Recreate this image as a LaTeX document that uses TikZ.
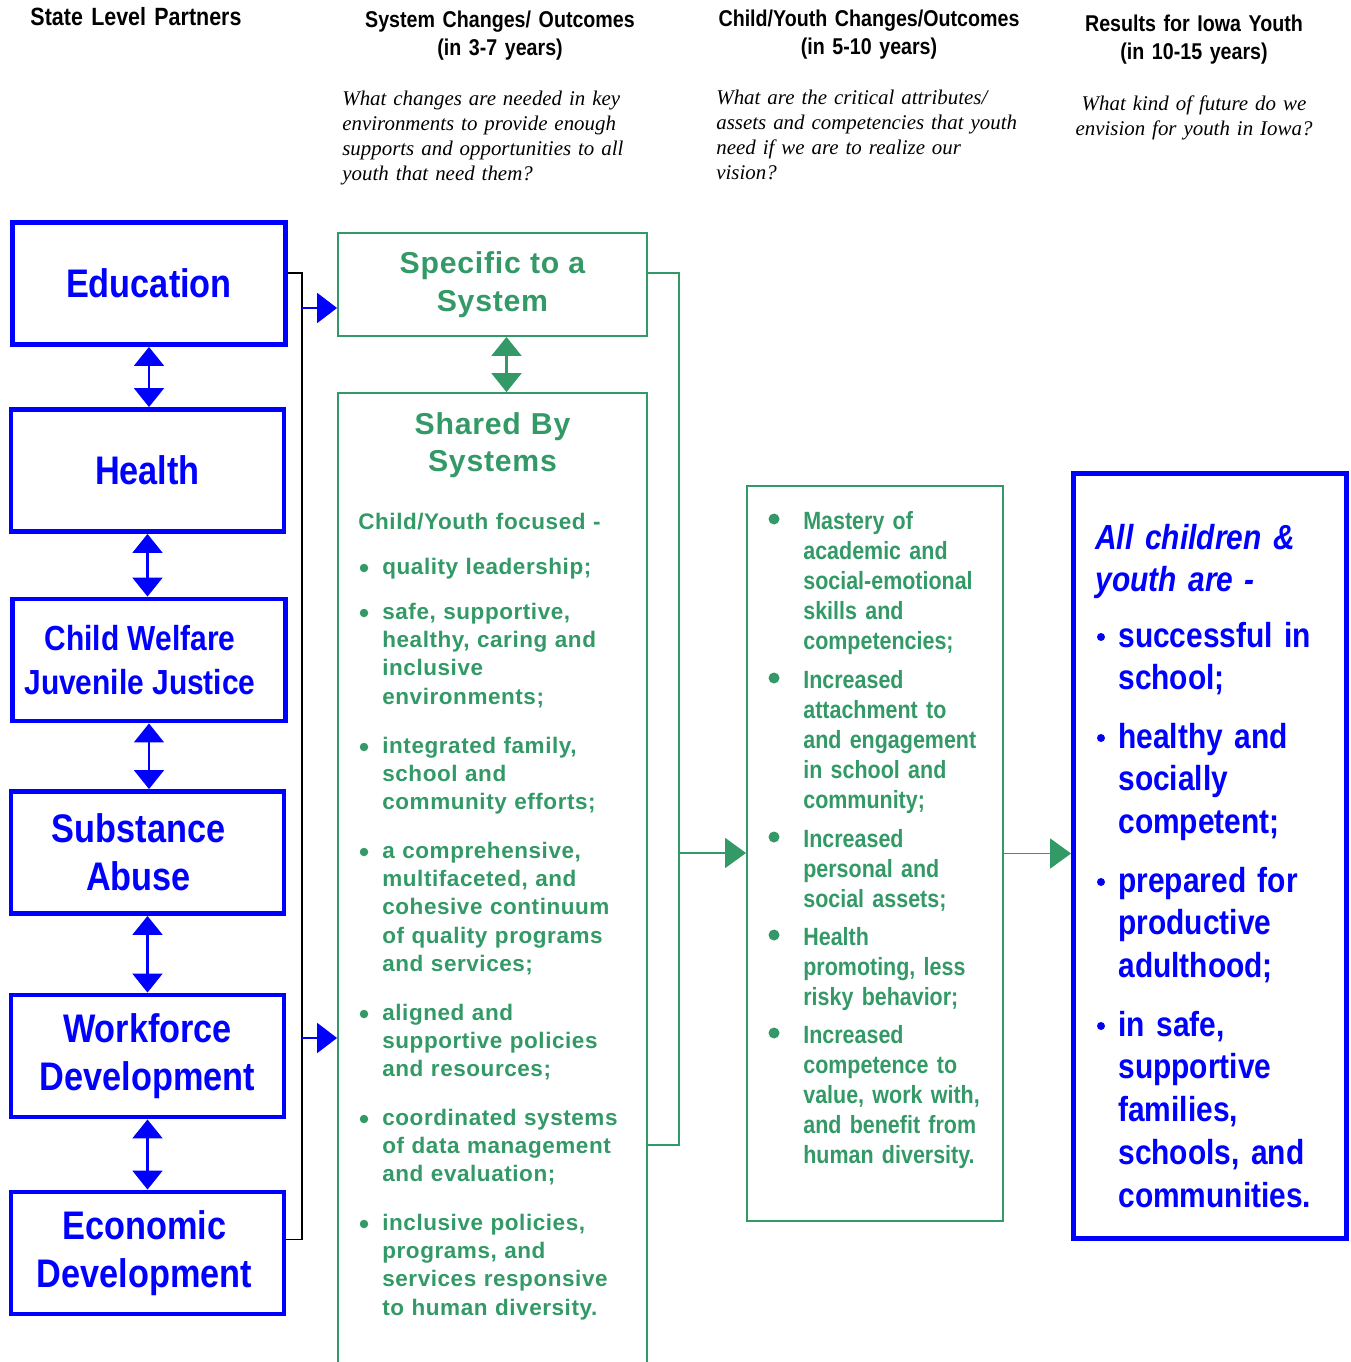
\documentclass[tikz,border=0pt]{standalone}
\usepackage{fontspec}
\usepackage{xcolor}
\usepackage{tikz}
\usetikzlibrary{arrows.meta, calc}

\setmainfont{Liberation Serif}
\newfontfamily\narrowfont[FakeStretch=0.86]{Liberation Sans}
\newfontfamily\spacedfont[LetterSpace=2.5]{Liberation Sans}

\definecolor{iowablue}{RGB}{0,0,255}
\definecolor{iowagreen}{RGB}{51,153,102}

\newcommand{\headfont}{\narrowfont\bfseries\fontsize{13}{15.9}\selectfont}
\newcommand{\askfont}{\itshape\fontsize{11.9}{14.2}\selectfont}
\newcommand{\partnerfont}{\narrowfont\bfseries\fontsize{22.7}{27.2}\selectfont}
\newcommand{\cwfont}{\narrowfont\bfseries\fontsize{19.8}{25}\selectfont}
\newcommand{\gtitlefont}{\spacedfont\bfseries\fontsize{17.2}{21.5}\selectfont}
\newcommand{\glistfont}{\spacedfont\bfseries\fontsize{12.8}{16.2}\selectfont}
\newcommand{\mlistfont}{\narrowfont\bfseries\fontsize{14.2}{17.1}\selectfont}
\newcommand{\rlistfont}{\narrowfont\bfseries\fontsize{19.8}{24.4}\selectfont}

\tikzset{
	partner/.style={draw=iowablue, line width=2.8pt, minimum width=5.46cm, minimum height=2.44cm,
		inner sep=0pt, text=iowablue, font=\partnerfont, align=center},
	gbox/.style={draw=iowagreen, line width=1.1pt, inner sep=0pt},
	heading/.style={anchor=base, text width=8cm, align=center, inner sep=0pt, font=\headfont},
	ask/.style={anchor=base west, text width=7cm, align=left, inner sep=0pt, font=\askfont},
	gitem/.style={anchor=base west, text width=5.4cm, align=left, inner sep=0pt, text=iowagreen, font=\glistfont},
	mitem/.style={anchor=base west, text width=4cm, align=left, inner sep=0pt, text=iowagreen, font=\mlistfont},
	ritem/.style={anchor=base west, text width=5cm, align=left, inner sep=0pt, text=iowablue, font=\rlistfont},
	gbul/.style={circle, fill=iowagreen, inner sep=0pt, minimum size=0.17cm},
	mbul/.style={circle, fill=iowagreen, inner sep=0pt, minimum size=0.22cm},
	rbul/.style={circle, fill=iowablue, inner sep=0pt, minimum size=0.16cm},
	barr/.style={iowablue, line width=1.2pt, -{Triangle[width=0.6cm,length=0.4cm]}},
	bdarr/.style={iowablue, line width=1.2pt, {Triangle[width=0.6cm,length=0.38cm]}-{Triangle[width=0.6cm,length=0.38cm]}},
	garr/.style={iowagreen, line width=1pt, -{Triangle[width=0.6cm,length=0.42cm]}},
	gdarr/.style={iowagreen, line width=1.2pt, {Triangle[width=0.6cm,length=0.38cm]}-{Triangle[width=0.6cm,length=0.38cm]}},
}

\begin{document}
\begin{tikzpicture}[x=0.02cm, y=-0.02cm]
	\useasboundingbox (0,0) rectangle (1351,1362);

	% column headings
	\node[heading, font=\narrowfont\bfseries\fontsize{14.2}{15.9}\selectfont] (hpart) at (136,26) {State Level Partners};
	\node[heading] (hsys) at (500,28) {System Changes/ Outcomes\\(in 3-7 years)};
	\node[heading] (hchild) at (869,27) {Child/Youth Changes/Outcomes\\(in 5-10 years)};
	\node[heading] (hres) at (1194,32) {Results for Iowa Youth\\(in 10-15 years)};

	\node[ask] (qsys) at (342,106) {What changes are needed in key\\environments to provide enough\\supports and opportunities to all\\youth that need them?};
	\node[ask] (qchild) at (716,105) {What are the critical attributes/\\assets and competencies that youth\\need if we are to realize our\\vision?};
	\node[ask, anchor=base, align=center] (qres) at (1194,111) {What kind of future do we\\envision for youth in Iowa?};

	% partners
	\node[partner] (edu) at (149,283.5) {Education};
	\node[partner] (hea) at (147.5,470.5) {Health};
	\node[partner, font=\cwfont] (cwj) at (149,660) {Child Welfare\hspace*{0.36cm}\\Juvenile Justice\hspace*{0.36cm}};
	\node[partner] (sub) at (147.5,852.5) {Substance\hspace*{0.36cm}\\Abuse\hspace*{0.36cm}};
	\node[partner] (wfd) at (147.5,1056) {Workforce\\Development};
	\node[partner] (eco) at (147.5,1253) {Economic\hspace*{0.12cm}\\Development\hspace*{0.12cm}};

	\draw[bdarr] (edu.south) -- (edu.south |- hea.north);
	\draw[bdarr] (hea.south) -- (hea.south |- cwj.north);
	\draw[bdarr] (cwj.south) -- (cwj.south |- sub.north);
	\draw[bdarr] (sub.south) -- (sub.south |- wfd.north);
	\draw[bdarr] (wfd.south) -- (wfd.south |- eco.north);

	% system changes
	\node[gbox, minimum width=6.18cm, minimum height=2.06cm, text=iowagreen, font=\gtitlefont, align=center] (spec) at (492.5,284.5) {Specific to a\\System};
	\node[gbox, minimum width=6.18cm, minimum height=20.14cm] (shared) at (492.5,896.5) {};
	\draw[gdarr] ([xshift=0.28cm]spec.south) -- ([xshift=0.28cm]spec.south |- shared.north);

	\node[anchor=base, text width=6cm, align=center, inner sep=0pt, text=iowagreen, font=\gtitlefont] (shtitle) at (492.5,434) {Shared By\\Systems};
	\node[gitem] (gfocus) at (358,529) {Child/Youth focused -};
	\foreach \i/\y/\t in {1/574/{quality leadership;},
		2/619/{safe, supportive,\\healthy, caring and\\inclusive\\environments;},
		3/753/{integrated family,\\school and\\community efforts;},
		4/858/{a comprehensive,\\multifaceted, and\\cohesive continuum\\of quality programs\\and services;},
		5/1020/{aligned and\\supportive policies\\and resources;},
		6/1125/{coordinated systems\\of data management\\and evaluation;},
		7/1230/{inclusive policies,\\programs, and\\services responsive\\to human diversity.}}
	{
		\node[gitem] (g\i) at (382,\y) {\t};
		\node[gbul] (gb\i) at (364,\y-6) {};
	}

	% child/youth changes
	\node[gbox, minimum width=5.12cm, minimum height=14.7cm] (mid) at (875,853.5) {};
	\foreach \i/\y/\t in {1/529/{Mastery of\\academic and\\social-emotional\\skills and\\competencies;},
		2/688/{Increased\\attachment to\\and engagement\\in school and\\community;},
		3/847/{Increased\\personal and\\social assets;},
		4/945/{Health\\promoting, less\\risky behavior;},
		5/1043/{Increased\\competence to\\value, work with,\\and benefit from\\human diversity.}}
	{
		\node[mitem] (m\i) at (803,\y) {\t};
		\node[mbul] (mb\i) at (774,\y-10) {};
	}

	% results
	\node[partner, minimum width=5.46cm, minimum height=15.3cm] (res) at (1210,856) {};
	\node[ritem, font=\rlistfont\itshape] (rall) at (1095,549) {All children \&\\youth are -};
	\foreach \i/\y/\t in {1/647/{successful in\\school;},
		2/748/{healthy and\\socially\\competent;},
		3/892/{prepared for\\productive\\adulthood;},
		4/1036/{in safe,\\supportive\\families,\\schools, and\\communities.}}
	{
		\node[ritem] (r\i) at (1118,\y) {\t};
		\node[rbul] (rb\i) at (1101,\y-10) {};
	}

	% connectors
	\draw[line width=0.8pt] ([yshift=0.21cm]edu.east) -- ++(14,0) coordinate (bus) |- ([yshift=0.27cm]eco.east);
	\coordinate (b1) at (302,308);
	\coordinate (b2) at (302,1038);
	\draw[barr] (b1) -- (b1 -| spec.west);
	\draw[barr] (b2) -- (b2 -| shared.west);

	\coordinate (g1) at (679,853);
	\coordinate (g2) at (679,1145);
	\draw[iowagreen, line width=1pt] ([yshift=0.23cm]spec.east) -| (g2) -- (g2 -| shared.east);
	\draw[garr] (g1) -- (g1 -| mid.west);
	\draw[garr] (mid.east) -- (mid.east -| res.west);
\end{tikzpicture}
\end{document}
